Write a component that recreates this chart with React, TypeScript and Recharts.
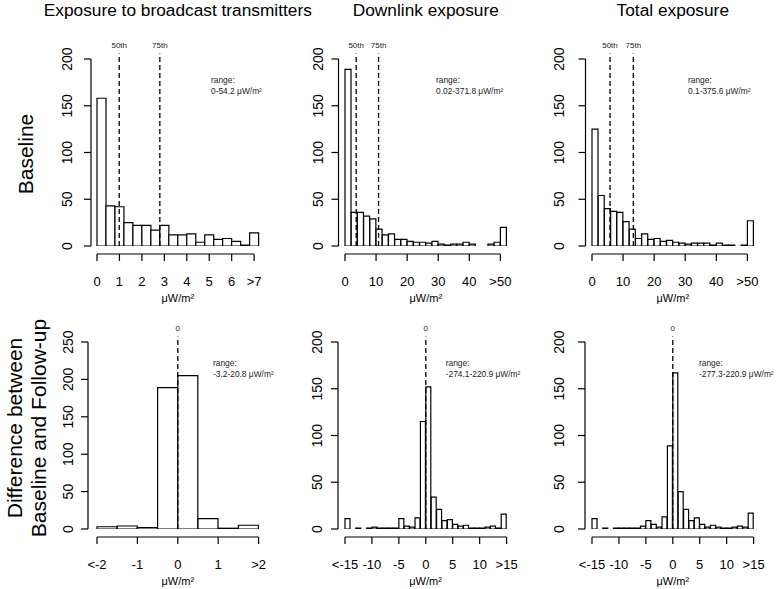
import React from 'react';
import { ComposedChart, Bar, XAxis, YAxis, ReferenceLine } from 'recharts';

const FONT = '"Liberation Sans", Arial, Helvetica, sans-serif';

// Titles
const COLUMN_TITLES = ['Exposure to broadcast transmitters', 'Downlink exposure', 'Total exposure'];
const ROW_TITLE_TOP = 'Baseline';
const ROW_TITLE_BOTTOM = ['Difference between', 'Baseline and Follow-up'];
const UNIT = 'μW/m²';

// Baseline histogram counts
const BROADCAST_BASE = [158, 43, 42, 25, 22, 22, 17, 22, 12, 12, 13, 4, 12, 7, 8, 5, 1, 14];
const DOWNLINK_BASE = [189, 36, 36, 32, 29, 18, 12, 13, 7, 7, 5, 4, 4, 3, 5, 2, 1, 2, 2, 4, 2, 0, 0, 2, 4, 20];
const TOTAL_BASE = [125, 54, 40, 37, 36, 26, 18, 8, 13, 7, 8, 5, 6, 4, 3, 2, 3, 3, 3, 1, 3, 1, 1, 0, 1, 27];

// Difference histogram counts
const BROADCAST_DIFF = [3, 4, 2, 189, 205, 14, 1, 5];
const DOWNLINK_DIFF = [11, 0, 1, 0, 1, 2, 1, 1, 1, 1, 11, 3, 2, 12, 115, 152, 34, 21, 9, 10, 5, 3, 4, 1, 1, 1, 2, 3, 1, 16];
const TOTAL_DIFF = [11, 0, 1, 0, 1, 1, 1, 1, 1, 3, 9, 5, 2, 13, 89, 167, 40, 21, 9, 12, 5, 2, 4, 2, 1, 1, 2, 3, 2, 17];

// Axis ticks and labels
const TICKS_BROADCAST = [0, 1, 2, 3, 4, 5, 6, 7];
const LABELS_BROADCAST = ['0', '1', '2', '3', '4', '5', '6', '>7'];
const TICKS_50 = [0, 10, 20, 30, 40, 50];
const LABELS_50 = ['0', '10', '20', '30', '40', '>50'];
const TICKS_DIFF2 = [-2, -1, 0, 1, 2];
const LABELS_DIFF2 = ['<-2', '-1', '0', '1', '>2'];
const TICKS_DIFF15 = [-15, -10, -5, 0, 5, 10, 15];
const LABELS_DIFF15 = ['<-15', '-10', '-5', '0', '5', '10', '>15'];
const Y_TICKS_200 = [0, 50, 100, 150, 200];
const Y_TICKS_250 = [0, 50, 100, 150, 200, 250];

// Percentile / zero markers
const QUANTILES_BROADCAST = [0.99, 2.8];
const QUANTILES_DOWNLINK = [3.6, 10.8];
const QUANTILES_TOTAL = [5.8, 13.3];
const QUANTILE_LABELS = ['50th', '75th'];
const ZERO_MARK = [0];
const ZERO_LABEL = ['0'];

const RANGES = [
  '0-54.2 μW/m²',
  '0.02-371.8 μW/m²',
  '0.1-375.6 μW/m²',
  '-3.2-20.8 μW/m²',
  '-274.1-220.9 μW/m²',
  '-277.3-220.9 μW/m²'
];

// Layout
const PLOT_W = 161.6;
const PLOT_H = 187;
const M = { top: 32, right: 16, bottom: 50, left: 46 };
const AXIS_PX = 1; // axes need a non-zero box to draw their ticks
const AX_GAP = 8;
const TICK_LEN = 7;

interface PanelSpec {
  counts: number[];
  binStart: number;
  binStep: number;
  ticks: number[];
  tickLabels: string[];
  yMax: number;
  yTicks: number[];
  marks: number[];
  markLabels: string[];
  range: string;
  left: number;
  top: number;
  yGap: number;
  yLabelDx: number;
  rangeDx: number;
}

const PANELS: PanelSpec[] = [
  { counts: BROADCAST_BASE, binStart: 0, binStep: 0.4, ticks: TICKS_BROADCAST, tickLabels: LABELS_BROADCAST, yMax: 200, yTicks: Y_TICKS_200, marks: QUANTILES_BROADCAST, markLabels: QUANTILE_LABELS, range: RANGES[0], left: 97, top: 59, yGap: 6, yLabelDx: 24, rangeDx: 114 },
  { counts: DOWNLINK_BASE, binStart: 0, binStep: 2, ticks: TICKS_50, tickLabels: LABELS_50, yMax: 200, yTicks: Y_TICKS_200, marks: QUANTILES_DOWNLINK, markLabels: QUANTILE_LABELS, range: RANGES[1], left: 345, top: 59, yGap: 6.5, yLabelDx: 20, rangeDx: 91 },
  { counts: TOTAL_BASE, binStart: 0, binStep: 2, ticks: TICKS_50, tickLabels: LABELS_50, yMax: 200, yTicks: Y_TICKS_200, marks: QUANTILES_TOTAL, markLabels: QUANTILE_LABELS, range: RANGES[2], left: 592, top: 59, yGap: 6.5, yLabelDx: 26, rangeDx: 96 },
  { counts: BROADCAST_DIFF, binStart: -2, binStep: 0.5, ticks: TICKS_DIFF2, tickLabels: LABELS_DIFF2, yMax: 250, yTicks: Y_TICKS_250, marks: ZERO_MARK, markLabels: ZERO_LABEL, range: RANGES[3], left: 97, top: 342.3, yGap: 9, yLabelDx: 20, rangeDx: 116 },
  { counts: DOWNLINK_DIFF, binStart: -15, binStep: 1, ticks: TICKS_DIFF15, tickLabels: LABELS_DIFF15, yMax: 200, yTicks: Y_TICKS_200, marks: ZERO_MARK, markLabels: ZERO_LABEL, range: RANGES[4], left: 344.7, top: 342.3, yGap: 7, yLabelDx: 21, rangeDx: 101 },
  { counts: TOTAL_DIFF, binStart: -15, binStep: 1, ticks: TICKS_DIFF15, tickLabels: LABELS_DIFF15, yMax: 200, yTicks: Y_TICKS_200, marks: ZERO_MARK, markLabels: ZERO_LABEL, range: RANGES[5], left: 592, top: 342.3, yGap: 7, yLabelDx: 26, rangeDx: 107 }
];

const XTick = (t: any) => {
  const i = t.ticks.indexOf(t.payload.value);
  const ay = t.baseY + AX_GAP;
  return (
    <g>
      <line x1={t.x} x2={t.x} y1={ay} y2={ay + TICK_LEN} stroke="#000" strokeWidth={1.2} />
      <text x={t.x} y={ay + 28} textAnchor="middle" dominantBaseline="central" fontSize={13} fontFamily={FONT} fill="#000">
        {t.labels[i]}
      </text>
    </g>
  );
};

const YTick = (t: any) => {
  const ax = t.baseX - t.gap;
  const lx = ax - t.labelDx;
  return (
    <g>
      <line x1={ax} x2={ax - TICK_LEN} y1={t.y} y2={t.y} stroke="#000" strokeWidth={1.2} />
      <text x={lx} y={t.y} transform={`rotate(-90 ${lx} ${t.y})`} textAnchor="middle" dominantBaseline="central" fontSize={14} fontFamily={FONT} fill="#000">
        {t.payload.value}
      </text>
    </g>
  );
};

const Panel = ({ p }: { p: PanelSpec }) => {
  const lo = p.binStart;
  const hi = p.binStart + p.binStep * p.counts.length;
  const rows = p.counts.map((count, i) => ({ bin: i, mid: lo + p.binStep * (i + 0.5), count }));
  const firstTick = p.ticks[0];
  const lastTick = p.ticks[p.ticks.length - 1];
  // plot area position inside this chart's svg
  const plotLeft = M.left + AXIS_PX;
  const plotBottom = M.top + PLOT_H;
  return (
    <div style={{ position: 'absolute', left: p.left - plotLeft, top: p.top - M.top }}>
      <ComposedChart
        width={PLOT_W + plotLeft + M.right}
        height={PLOT_H + M.top + M.bottom + AXIS_PX}
        data={rows}
        margin={M}
        barCategoryGap={0}
        barGap={0}
      >
        <XAxis xAxisId="bins" dataKey="bin" type="category" hide />
        <XAxis
          xAxisId="val"
          dataKey="mid"
          type="number"
          domain={[lo, hi]}
          allowDataOverflow
          ticks={p.ticks}
          interval={0}
          height={AXIS_PX}
          axisLine={false}
          tickLine={false}
          tickSize={0}
          tickMargin={0}
          tick={(t: any) => <XTick {...t} baseY={plotBottom} ticks={p.ticks} labels={p.tickLabels} />}
        />
        <YAxis
          domain={[0, p.yMax]}
          ticks={p.yTicks}
          allowDataOverflow
          interval={0}
          width={AXIS_PX}
          axisLine={false}
          tickLine={false}
          tickSize={0}
          tickMargin={0}
          tick={(t: any) => <YTick {...t} baseX={plotLeft} gap={p.yGap} labelDx={p.yLabelDx} />}
        />
        <Bar xAxisId="bins" dataKey="count" fill="#fff" stroke="#000" strokeWidth={1.2} isAnimationActive={false} />
        {/* x axis line, detached below the bars */}
        <ReferenceLine
          xAxisId="val"
          segment={[{ x: firstTick, y: 0 }, { x: lastTick, y: 0 }]}
          ifOverflow="visible"
          shape={(s: any) => (
            <line x1={s.x1} y1={s.y1 + AX_GAP} x2={s.x2} y2={s.y2 + AX_GAP} stroke="#000" strokeWidth={1.2} />
          )}
        />
        {/* y axis line, detached left of the bars */}
        <ReferenceLine
          xAxisId="val"
          segment={[{ x: lo, y: 0 }, { x: lo, y: p.yMax }]}
          ifOverflow="visible"
          shape={(s: any) => (
            <line x1={s.x1 - p.yGap} y1={s.y1} x2={s.x2 - p.yGap} y2={s.y2} stroke="#000" strokeWidth={1.2} />
          )}
        />
        {p.marks.map((m, i) => (
          <ReferenceLine
            key={`mark-${i}`}
            xAxisId="val"
            segment={[{ x: m, y: 0 }, { x: m, y: p.yMax * 1.03 }]}
            ifOverflow="visible"
            shape={(s: any) => (
              <g>
                <line x1={s.x1} y1={s.y1} x2={s.x2} y2={s.y2} stroke="#000" strokeWidth={1.3} strokeDasharray="5 3" />
                <text x={s.x1} y={Math.min(s.y1, s.y2) - 8} textAnchor="middle" dominantBaseline="central" fontSize={8} fontFamily={FONT} fill="#222">
                  {p.markLabels[i]}
                </text>
              </g>
            )}
          />
        ))}
      </ComposedChart>
    </div>
  );
};

const COL_LEFT = [97, 345, 592];

export default function App() {
  return (
    <div style={{ position: 'absolute', left: 0, top: 0, width: 778, height: 589, background: '#fff', fontFamily: FONT }}>
      <svg width={778} height={589} style={{ position: 'absolute', left: 0, top: 0 }}>
        {COLUMN_TITLES.map((t, c) => (
          <text key={t} x={COL_LEFT[c] + PLOT_W / 2} y={16} textAnchor="middle" fontSize={17.3} fontFamily={FONT} fill="#000">
            {t}
          </text>
        ))}
        <text x={33} y={154} transform="rotate(-90 33 154)" textAnchor="middle" fontSize={21} fontFamily={FONT} fill="#000">
          {ROW_TITLE_TOP}
        </text>
        {ROW_TITLE_BOTTOM.map((t, i) => {
          const x = 22 + i * 24;
          return (
            <text key={t} x={x} y={428} transform={`rotate(-90 ${x} 428)`} textAnchor="middle" fontSize={21} fontFamily={FONT} fill="#000">
              {t}
            </text>
          );
        })}
        {PANELS.map((p, i) => (
          <g key={`lab-${i}`}>
            <text x={p.left + PLOT_W / 2} y={p.top + PLOT_H + 52} textAnchor="middle" dominantBaseline="central" fontSize={11} fontFamily={FONT} fill="#000">
              {UNIT}
            </text>
            <text x={p.left + p.rangeDx} y={p.top + 21} dominantBaseline="central" fontSize={8.4} fontFamily={FONT} fill="#222">
              range:
            </text>
            <text x={p.left + p.rangeDx} y={p.top + 32} dominantBaseline="central" fontSize={8.4} fontFamily={FONT} fill="#222">
              {p.range}
            </text>
          </g>
        ))}
      </svg>
      {PANELS.map((p, i) => (
        <Panel key={i} p={p} />
      ))}
    </div>
  );
}
